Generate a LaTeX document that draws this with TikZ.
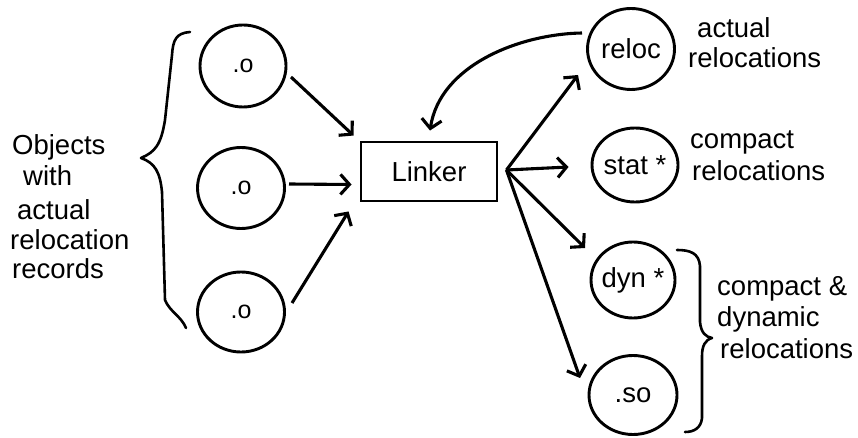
\documentclass[tikz,border=0pt]{standalone}
\usepackage{fontspec}
\setmainfont{Liberation Sans}
\usetikzlibrary{arrows.meta,shapes.geometric,calc}
\begin{document}
\begin{tikzpicture}[x=1pt,y=-1pt,
  txt/.style={font=\fontsize{27.5}{31}\selectfont, inner sep=0pt, anchor=base west},
  blob/.style={ellipse, draw, line width=2.9pt, inner sep=-4pt, font=\fontsize{27.5}{31}\selectfont},
  arr/.style={line width=3.1pt, -{Straight Barb[length=9pt,width=20pt]}},
  brace/.style={line width=2.6pt, line join=round, line cap=round}]
\useasboundingbox (0,0) rectangle (858,438);

% left objects
\node[blob, minimum width=86pt, minimum height=82pt, font=\fontsize{25}{30}\selectfont] (o1) at (243,66) {.o};
\node[blob, minimum width=87pt, minimum height=81pt, font=\fontsize{25}{30}\selectfont] (o2) at (241,188) {.o};
\node[blob, minimum width=87pt, minimum height=80pt, font=\fontsize{25}{30}\selectfont] (o3) at (241,312) {.o};

% linker
\node[draw, line width=2.9pt, minimum width=136pt, minimum height=59pt, inner sep=0pt,
      font=\fontsize{27.5}{31}\selectfont] (linker) at (429,171.5) {Linker};

% right outputs
\node[blob, minimum width=87pt, minimum height=81pt] (reloc) at (631,49) {reloc};
\node[blob, minimum width=86pt, minimum height=74pt] (stat) at (635,165) {stat *};
\node[blob, minimum width=84pt, minimum height=76pt] (dyn) at (633,280) {dyn *};
\node[blob, minimum width=88pt, minimum height=79pt] (so) at (633,395) {.so};

% arrows into linker
\draw[arr] ($(o1)+(48,11)$) -- ($(linker.north west)+(-6,-5)$);
\draw[arr] ($(o2)+(48,-4)$) -- ($(linker.west)+(-8,13)$);
\draw[arr] ($(o3)+(51,-9)$) -- ($(linker.south west)+(-11,9)$);

% arrows out of linker
\coordinate (hub) at ($(linker.east)+(8,-1.5)$);
\draw[arr] (hub) -- ($(reloc)+(-53,26)$);
\draw[arr] (hub) -- ($(stat.west)+(-22,2)$);
\draw[arr] (hub) -- ($(dyn)+(-48,-32)$);
\draw[arr] (hub) -- ($(so)+(-53,-17)$);

% feedback curve
\draw[arr] ($(reloc)+(-49,-16)$) .. controls (520,34) and (440,65) .. ($(linker.north)+(1,-10)$);

% left brace
\draw[brace] (190,32) .. controls (176,33) and (173,40) .. (172,55)
  -- (165,120) .. controls (161,145) and (155,152) .. (141,158)
  .. controls (155,163) and (160,172) .. (162,192)
  -- (165,300) .. controls (170,312) and (181,316) .. (186,328);

% right brace
\draw[brace] (677,250) .. controls (690,250) and (699,253) .. (700,266)
  -- (700,322) .. controls (701,333) and (706,337) .. (712,338)
  .. controls (705,340) and (702,346) .. (702,356)
  -- (702,418) .. controls (701,428) and (694,432) .. (685,432);

% left label
\node[txt] (l1) at (12,155) {Objects};
\node[txt] (l2) at (23,186) {with};
\node[txt] (l3) at (17,219) {actual};
\node[txt] (l4) at (10,249) {relocation};
\node[txt] (l5) at (12,278) {records};

% right labels
\node[txt] (r1) at (697,38) {actual};
\node[txt] (r2) at (688,68) {relocations};
\node[txt] (r3) at (690,149) {compact};
\node[txt] (r4) at (692,181) {relocations};
\node[txt] (r5) at (717,295) {compact \&};
\node[txt] (r6) at (717,326) {dynamic};
\node[txt] (r7) at (720,358) {relocations};
\end{tikzpicture}
\end{document}
